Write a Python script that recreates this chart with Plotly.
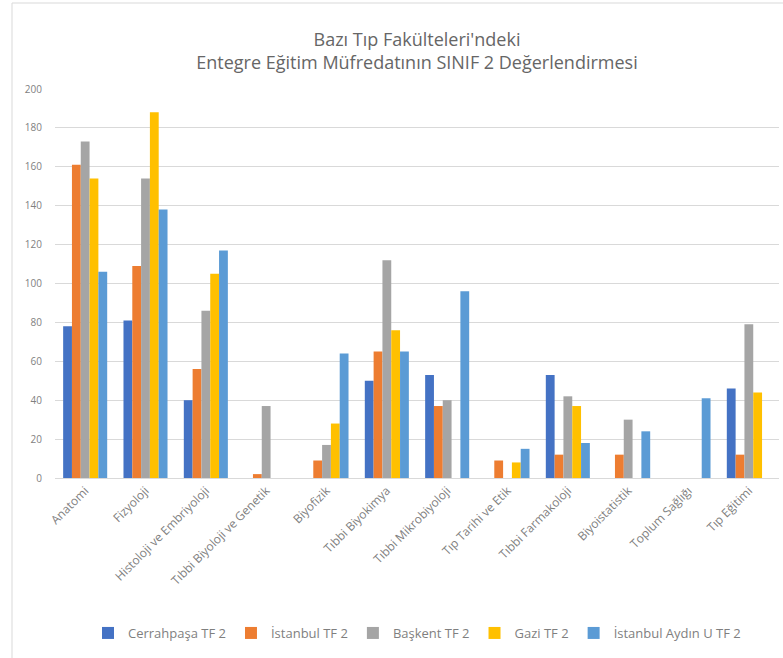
import plotly.graph_objects as go

categories = ["Anatomi", "Fizyoloji", "Histoloji ve Embriyoloji", "Tıbbi Biyoloji ve Genetik",
              "Biyofizik", "Tıbbi Biyokimya", "Tıbbi Mikrobiyoloji", "Tıp Tarihi ve Etik",
              "Tıbbi Farmakoloji", "Biyoistatistik", "Toplum Sağlığı", "Tıp Eğitimi"]

cerrahpasa = [78, 81, 40, 0, 0, 50, 53, 0, 53, 0, 0, 46]
istanbul = [161, 109, 56, 2, 9, 65, 37, 9, 12, 12, 0, 12]
baskent = [173, 154, 86, 37, 17, 112, 40, 0, 42, 30, 0, 79]
gazi = [154, 188, 105, 0, 28, 76, 0, 8, 37, 0, 0, 44]
istanbul_aydin = [106, 138, 117, 0, 64, 65, 96, 15, 18, 24, 41, 0]

series_names = ["Cerrahpaşa TF 2", "İstanbul TF 2", "Başkent TF 2", "Gazi TF 2", "İstanbul Aydın U TF 2"]
y_ticks = [0, 20, 40, 60, 80, 100, 120, 140, 160, 180, 200]

colors = ["#4472C4", "#ED7D31", "#A5A5A5", "#FFC000", "#5B9BD5"]
font_family = "Open Sans, Noto Sans, sans-serif"

fig = go.Figure()
for name, vals, col in zip(series_names,
                           [cerrahpasa, istanbul, baskent, gazi, istanbul_aydin], colors):
    fig.add_trace(go.Bar(x=categories, y=vals, name=name, marker_color=col,
                         marker_line_width=0))

fig.update_layout(
    width=783, height=658,
    paper_bgcolor="white", plot_bgcolor="white",
    barmode="group", bargap=0.27, bargroupgap=0.0,
    margin=dict(l=55, r=4, t=89, b=180),
    font=dict(family=font_family, color="#595959"),
    title=dict(text="Bazı Tıp Fakülteleri'ndeki<br>Entegre Eğitim Müfredatının SINIF 2 Değerlendirmesi",
               x=0.5, xanchor="center", xref="paper", y=1 - 46 / 658, yanchor="middle",
               font=dict(size=18, color="#666666", family=font_family)),
    xaxis=dict(tickangle=-45, tickfont=dict(size=12, color="#7F7F7F"), showgrid=False,
               showline=True, linecolor="#D9D9D9", linewidth=1, ticks=""),
    yaxis=dict(range=[0, 200], tickvals=y_ticks, tickfont=dict(size=10, color="#7F7F7F"),
               showgrid=True, gridcolor="#D9D9D9", gridwidth=1, zeroline=False,
               showline=False, ticks="", ticklabelstandoff=12),
    legend=dict(orientation="h", x=0.5, xanchor="center", y=(478 - 633) / 389, yanchor="middle",
                font=dict(size=13, color="#7F7F7F"), itemwidth=30, tracegroupgap=0),
    shapes=[
        dict(type="line", xref="paper", yref="paper", x0=(12 - 55) / 724, x1=(12 - 55) / 724,
             y0=(478 - 658) / 389, y1=(478 - 3) / 389, line=dict(color="#D9D9D9", width=1)),
        dict(type="line", xref="paper", yref="paper", x0=(12 - 55) / 724, x1=1.01,
             y0=(478 - 3) / 389, y1=(478 - 3) / 389, line=dict(color="#D9D9D9", width=1)),
    ],
)

fig.write_html("out.html", config={"displayModeBar": False},
               post_script="document.body.style.margin='0';")
